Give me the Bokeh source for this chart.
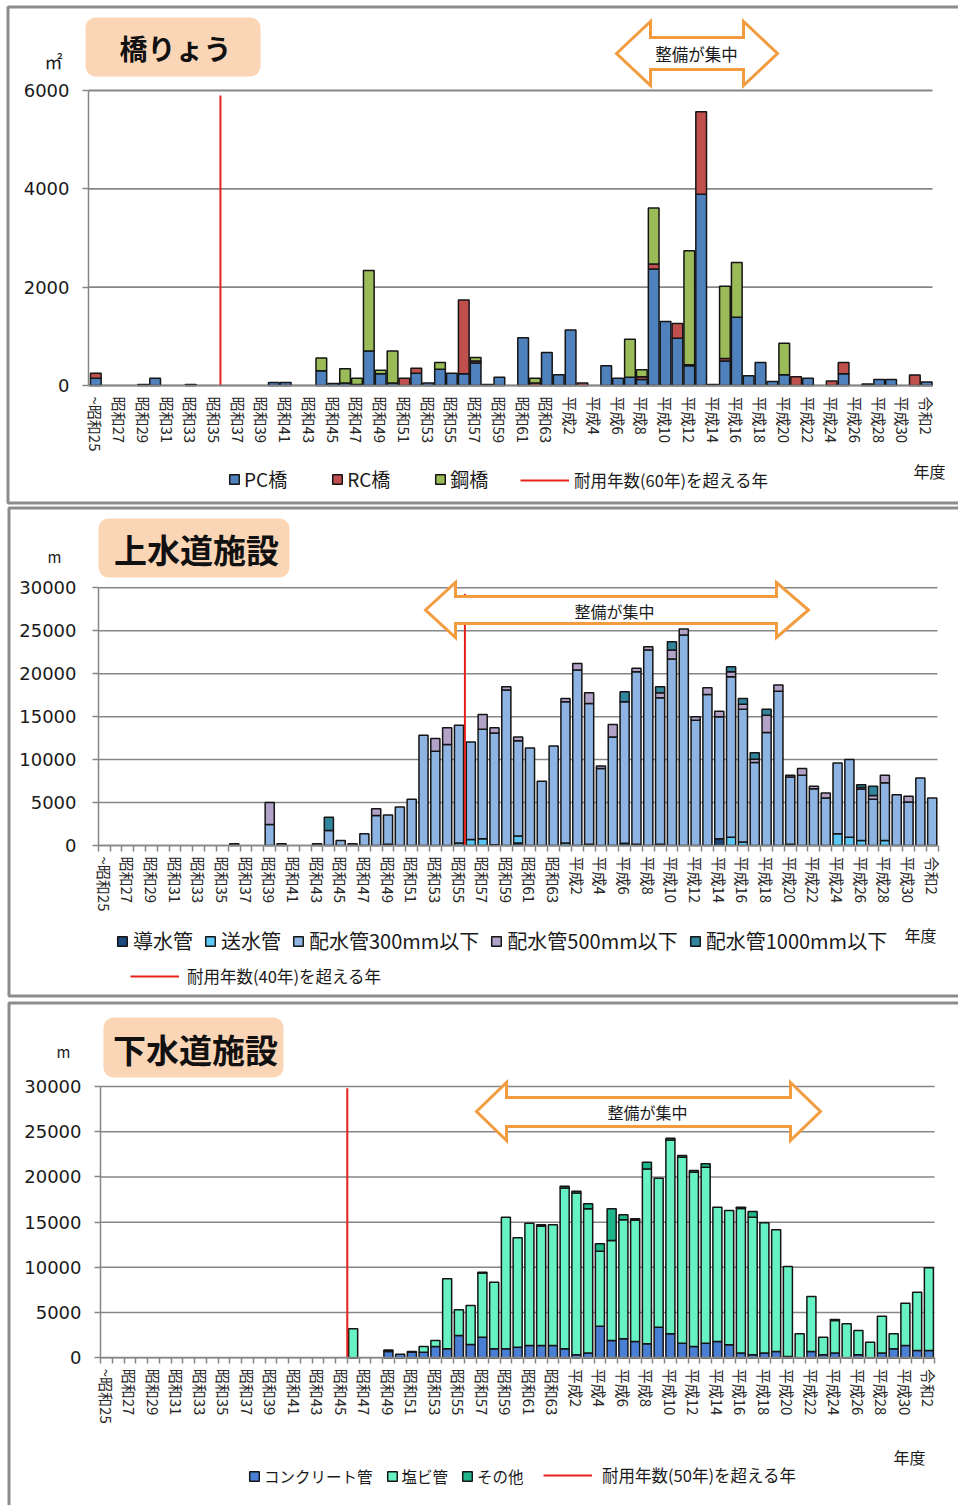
import numpy as np
from bokeh.plotting import figure
from bokeh.models import (ColumnDataSource, FixedTicker, Legend, LegendItem, Label, Range1d, LinearAxis)
from bokeh.layouts import column
from bokeh.embed import file_html
from bokeh.resources import INLINE
from bokeh.core.properties import value

# ---------------- categories (fiscal years 1950 .. 2020) ----------------
showa = [f"昭和{n}" for n in range(25, 64)]
heisei = ["平成元"] + [f"平成{n}" for n in range(2, 31)]
reiwa = ["令和元", "令和2"]
years = showa + heisei + reiwa
FIRST_YEAR = 1950
BASE_YEAR = 2020
tick_labels = {i: ("~" + years[i] if i == 0 else years[i]) for i in range(0, len(years), 2)}

# ---------------- 橋りょう (m2) ----------------
bridge_names = ["PC橋", "RC橋", "鋼橋"]
bridge_pc = [150, 0, 0, 0, 20, 150, 0, 0, 20, 0,
             0, 0, 0, 0, 0, 60, 60, 0, 0, 300,
             40, 50, 20, 700, 240, 50, 0, 250, 50, 330,
             250, 240, 460, 20, 170, 0, 970, 0, 670, 220,
             1130, 0, 0, 400, 150, 170, 120, 2370, 1300, 960,
             400, 3890, 20, 500, 1390, 200, 470, 80, 220, 0,
             150, 0, 0, 240, 0, 30, 120, 120, 0, 0,
             70]
bridge_rc = [100, 0, 0, 0, 0, 0, 0, 0, 0, 0,
             0, 0, 0, 0, 0, 0, 0, 0, 0, 0,
             0, 0, 0, 0, 0, 0, 150, 100, 0, 0,
             0, 1500, 40, 0, 0, 0, 0, 50, 0, 0,
             0, 50, 0, 0, 0, 0, 60, 100, 0, 300,
             20, 1680, 0, 50, 0, 0, 0, 0, 0, 180,
             0, 0, 90, 230, 0, 0, 0, 0, 0, 215,
             0]
bridge_steel = [0, 0, 0, 0, 0, 0, 0, 0, 0, 0,
                0, 0, 0, 0, 0, 0, 0, 0, 0, 260,
                0, 290, 130, 1640, 70, 650, 0, 0, 0, 140,
                0, 0, 70, 0, 0, 0, 0, 100, 0, 0,
                0, 0, 0, 0, 0, 770, 140, 1140, 0, 0,
                2320, 0, 0, 1470, 1110, 0, 0, 0, 640, 0,
                0, 0, 0, 0, 0, 0, 0, 0, 0, 0,
                0]

# ---------------- 上水道施設 (m) ----------------
water_names = ["導水管", "送水管", "配水管300mm以下", "配水管500mm以下", "配水管1000mm以下"]
water_dosui = [0] * 20 + [0, 0, 0, 0, 150, 0, 0, 0, 0, 0,
                          0, 0, 0, 0, 0, 300, 0, 0, 0, 0,
                          0, 150, 0, 0, 250, 150, 0, 150, 0, 0,
                          0, 0, 800, 0, 0, 0, 0, 0, 150, 0] + [0] * 11
water_sosui = [0] * 30 + [300, 700, 780, 100, 0, 800, 0, 0, 0, 300,
                          0, 0, 0, 0, 0, 0, 0, 0, 0, 0,
                          0, 0, 0, 970, 400, 0, 0, 0, 0, 0,
                          0, 0, 1360, 970, 580, 0, 580, 0, 0, 0,
                          0]
water_300 = [0, 0, 0, 0, 0, 0, 0, 0, 0, 0,
             0, 200, 0, 0, 2450, 200, 0, 0, 200, 1750,
             580, 200, 1360, 3500, 3400, 4470, 5370, 12840, 10970, 11750,
             13700, 11360, 12760, 13000, 18090, 11080, 11360, 7470, 11590, 16430,
             20420, 16380, 8950, 12640, 16480, 20080, 22760, 17040, 21700, 24500,
             14590, 17580, 14180, 18670, 15470, 9650, 13150, 17970, 7820, 8170,
             6610, 5520, 8250, 9030, 5960, 5370, 6730, 5910, 5060, 7860,
             5520]
water_500 = [0, 0, 0, 0, 0, 0, 0, 0, 0, 0,
             0, 0, 0, 0, 2550, 0, 0, 0, 0, 0,
             0, 0, 0, 780, 0, 0, 0, 0, 1480, 1950,
             0, 0, 1710, 600, 390, 460, 0, 0, 0, 390,
             780, 1250, 310, 1440, 0, 390, 390, 580, 1060, 700,
             390, 780, 660, 580, 580, 390, 2020, 700, 200, 780,
             280, 590, 0, 0, 200, 450, 860, 0, 660, 0,
             0]
water_1000 = [0, 0, 0, 0, 0, 0, 0, 0, 0, 0,
              0, 0, 0, 0, 0, 0, 0, 0, 0, 1550,
              0, 0, 0, 0, 0, 0, 0, 0, 0, 0,
              0, 0, 0, 0, 0, 0, 0, 0, 0, 0,
              0, 0, 0, 0, 1170, 0, 0, 700, 970, 0,
              0, 0, 0, 590, 670, 770, 700, 0, 0, 0,
              0, 0, 0, 0, 340, 1070, 0, 0, 0, 0,
              0]

# ---------------- 下水道施設 (m) ----------------
sewer_names = ["コンクリート管", "塩ビ管", "その他"]
sewer_concrete = [0] * 20 + [0, 0, 0, 0, 700, 400, 600, 600, 1250, 1000,
                             2470, 1470, 2280, 1000, 1000, 1180, 1360, 1360, 1360, 1000,
                             330, 520, 3500, 1920, 2100, 1800, 1550, 3390, 2650, 1620,
                             1250, 1620, 1800, 1440, 520, 330, 520, 700, 150, 0,
                             700, 330, 520, 0, 330, 0, 520, 1000, 1360, 810,
                             810]
sewer_pvc = [0] * 20 + [0, 3200, 0, 0, 0, 0, 0, 650, 670, 7730,
                        2830, 4320, 7090, 7360, 14550, 12090, 13530, 13190, 13340, 17780,
                        17900, 15950, 8290, 11050, 13160, 13420, 19340, 16470, 21430, 20550,
                        19260, 19460, 14860, 14850, 15990, 15220, 14400, 13450, 9950, 2650,
                        6080, 1950, 3600, 3760, 2690, 1730, 4080, 1650, 4680, 6450,
                        9140]
sewer_other = [0] * 20 + [0, 0, 0, 0, 150, 0, 100, 0, 0, 0,
                          0, 0, 100, 0, 0, 0, 0, 150, 0, 200,
                          200, 560, 810, 3500, 550, 150, 740, 0, 200, 200,
                          200, 370, 0, 0, 150, 630, 0, 0, 0, 0,
                          0, 0, 120, 0, 0, 0, 0, 0, 0, 0,
                          0]

JP = "Noto Sans CJK JP"
NUM = "DejaVu Sans"
PEACH = "#fbd6b6"
ORANGE = "#f29b3f"
GRID = "#868686"
FRAME = "#8c8c8c"
W = 958

# layout of each panel in page pixels (page origin = top-left of the window)
panels = [
    dict(title="橋りょう", unit="㎡", unit_size="18px", names=bridge_names,
         series=[bridge_pc, bridge_rc, bridge_steel],
         colors=["#4f81bd", "#c0504d", "#9bbb59"],
         life=60, red_top=5900, top=0, h=505,
         axis_px=88, right_px=932, cat0_px=95.3, cat_px=11.87,
         zero_py=385, max_py=90, ymax=6000, yticks=[0, 2000, 4000, 6000],
         ystand=13, bw=0.9, minor=False, grid_w=1.8,
         border=(7.5, 6.5, 502.5),
         box=(85, 17, 260, 76), title_xy=(175, 47), title_size="28px",
         arrow=(616, 777, 34, 34, 21, 85, 37, 69), arrow_text=(696, 53), arrow_size="16.5px",
         unit_xy=(53, 60), nendo_xy=(929, 470),
         leg_bar=(228, 481, "19px", 44, 4), leg_line=(520, 481, 5)),
    dict(title="上水道施設", unit="m", unit_size="15px", names=water_names,
         series=[water_dosui, water_sosui, water_300, water_500, water_1000],
         colors=["#1f497d", "#5bc8f5", "#8db4e2", "#b3a2c7", "#31859c"],
         life=40, red_top=29300, top=505, h=494,
         axis_px=98, right_px=937, cat0_px=103.6, cat_px=11.83,
         zero_py=845, max_py=587.3, ymax=30000, yticks=list(range(0, 30001, 5000)),
         ystand=16, bw=0.77, minor=True, grid_w=1.5,
         border=(8.5, 507.5, 995.5),
         box=(98, 518, 289, 577), title_xy=(196, 548), title_size="33px",
         arrow=(425, 808, 30, 32, 582, 637, 596, 623), arrow_text=(614, 610), arrow_size="16px",
         unit_xy=(54, 556), nendo_xy=(920, 934),
         leg_bar=(116, 944, "20px", 11, 5), leg_line=(130, 977, 8)),
    dict(title="下水道施設", unit="m", unit_size="15px", names=sewer_names,
         series=[sewer_concrete, sewer_pvc, sewer_other],
         colors=["#4a7fd6", "#66f2c4", "#1fb68c"],
         life=50, red_top=29800, top=999, h=506,
         axis_px=100, right_px=934, cat0_px=105.9, cat_px=11.75,
         zero_py=1357.3, max_py=1086, ymax=30000, yticks=list(range(0, 30001, 5000)),
         ystand=13, bw=0.77, minor=True, grid_w=1.5,
         border=(8.5, 1002.5, 1530),
         box=(103, 1017, 283, 1077), title_xy=(195, 1048), title_size="33px",
         arrow=(476, 820, 30, 30, 1082, 1140, 1097, 1126), arrow_text=(647, 1111), arrow_size="16px",
         unit_xy=(63, 1051), nendo_xy=(909, 1456),
         leg_bar=(248, 1476, "15.5px", 13, 4), leg_line=(543, 1476, 10)),
]


def build(c):
    top, h = c["top"], c["h"]
    val_px = (c["zero_py"] - c["max_py"]) / c["ymax"]

    def xd(px):
        return (px - c["cat0_px"]) / c["cat_px"]

    def yd(py):
        return (c["zero_py"] - py) / val_px

    p = figure(width=W, height=h, output_backend="svg", toolbar_location=None,
               x_range=Range1d(xd(0), xd(W)), y_range=Range1d(yd(top + h), yd(top)),
               x_axis_type=None, y_axis_type=None, min_border=0,
               background_fill_color="white", border_fill_color="white",
               outline_line_color=None)

    # panel frame (grey box)
    bl, bt, bb = c["border"]
    p.quad(left=[xd(bl)], right=[xd(W + 20)], top=[yd(bt)], bottom=[yd(bb)],
           fill_color=None, line_color=FRAME, line_width=3)

    # horizontal grid lines at the y ticks
    yt = np.array(c["yticks"], dtype=float)
    p.segment(x0=[xd(c["axis_px"])] * len(yt), x1=[xd(c["right_px"])] * len(yt),
              y0=yt, y1=yt, line_color=GRID, line_width=c["grid_w"])

    # axes pinned inside the frame
    yaxis = LinearAxis(fixed_location=xd(c["axis_px"]), bounds=(0, c["ymax"]),
                       ticker=FixedTicker(ticks=c["yticks"]))
    yaxis.major_label_text_font = NUM
    yaxis.major_label_text_font_size = "18px"
    yaxis.major_label_text_color = "#1a1a1a"
    yaxis.major_tick_out = 6
    yaxis.major_tick_in = 0
    yaxis.major_tick_line_color = GRID
    yaxis.major_tick_line_width = 1.5
    yaxis.minor_tick_line_color = None
    yaxis.axis_line_color = GRID
    yaxis.axis_line_width = 1.5
    yaxis.major_label_standoff = c["ystand"]
    p.add_layout(yaxis, "left")

    xaxis = LinearAxis(fixed_location=0, bounds=(xd(c["axis_px"]), xd(c["right_px"])),
                       ticker=FixedTicker(ticks=list(range(0, len(years), 2)),
                                          minor_ticks=[i - 0.5 for i in range(len(years) + 1)]))
    xaxis.major_label_overrides = tick_labels
    xaxis.major_label_orientation = "vertical"
    xaxis.major_tick_line_color = None
    xaxis.major_tick_out = 6
    xaxis.minor_tick_out = 6
    xaxis.minor_tick_in = 0
    xaxis.minor_tick_line_color = GRID if c["minor"] else None
    xaxis.minor_tick_line_width = 1.5
    xaxis.axis_line_color = GRID
    xaxis.axis_line_width = 1.5
    xaxis.major_label_text_font = JP
    xaxis.major_label_text_font_size = "15px"
    xaxis.major_label_text_color = "#262626"
    xaxis.major_label_standoff = 5
    p.add_layout(xaxis, "below")

    # stacked bars
    x = np.arange(len(years))
    base = np.zeros(len(years))
    rends = []
    for vals, col in zip(c["series"], c["colors"]):
        v = np.array(vals, dtype=float)
        m = v > 0
        src = ColumnDataSource(dict(x=x[m], bottom=base[m], top=(base + v)[m]))
        r = p.vbar(x="x", bottom="bottom", top="top", width=c["bw"], source=src,
                   fill_color=col, line_color="#151515", line_width=1.5)
        rends.append(r)
        base = base + v

    # red line: year exceeding the service life
    idx = (BASE_YEAR - c["life"]) - FIRST_YEAR + 0.5
    red = p.segment(x0=[idx], y0=[0], x1=[idx], y1=[c["red_top"]],
                    line_color="#e6221c", line_width=2)

    # double arrow "整備が集中"
    xl, xr, hl, hr, ya, yb, st, sb = c["arrow"]
    yc = (ya + yb) / 2
    ax = [xl, xl + hl, xl + hl, xr - hr, xr - hr, xr, xr - hr, xr - hr, xl + hl, xl + hl]
    ay = [yc, ya, st, st, ya, yc, yb, sb, sb, yb]
    p.patch([xd(v) for v in ax], [yd(v) for v in ay], fill_color="white",
            line_color=ORANGE, line_width=3, line_join="miter")
    p.add_layout(Label(x=xd(c["arrow_text"][0]), y=yd(c["arrow_text"][1]), text="整備が集中",
                       text_font=JP, text_font_size=c["arrow_size"], text_color="#1a1a1a",
                       text_align="center", text_baseline="middle"))

    # title box
    bx0, by0, bx1, by1 = c["box"]
    p.quad(left=[xd(bx0)], right=[xd(bx1)], top=[yd(by0)], bottom=[yd(by1)],
           fill_color=PEACH, line_color=None, border_radius=10)
    p.add_layout(Label(x=xd(c["title_xy"][0]), y=yd(c["title_xy"][1]), text=c["title"],
                       text_font=JP, text_font_size=c["title_size"], text_font_style="bold",
                       text_color="#111111", text_align="center", text_baseline="middle"))

    # unit and 年度
    p.add_layout(Label(x=xd(c["unit_xy"][0]), y=yd(c["unit_xy"][1]), text=c["unit"],
                       text_font=JP, text_font_size=c["unit_size"], text_color="#1a1a1a",
                       text_align="center", text_baseline="middle"))
    p.add_layout(Label(x=xd(c["nendo_xy"][0]), y=yd(c["nendo_xy"][1]), text="年度",
                       text_font=JP, text_font_size="16px", text_color="#1a1a1a",
                       text_align="center", text_baseline="middle"))

    # legends (screen position measured from the frame's bottom-left)
    lx, ly, lsize, lsp, lstand = c["leg_bar"]
    leg1 = Legend(items=[LegendItem(label=value(n), renderers=[r]) for n, r in zip(c["names"], rends)],
                  location=(lx, top + h - (ly + 11)), orientation="horizontal",
                  border_line_color=None, background_fill_alpha=0, padding=0, margin=0,
                  spacing=lsp, glyph_width=12, glyph_height=12, label_standoff=lstand,
                  label_height=22, label_text_font=JP, label_text_font_size=lsize,
                  label_text_color="#1a1a1a")
    p.add_layout(leg1, "center")
    mx, my, mstand = c["leg_line"]
    leg2 = Legend(items=[LegendItem(label=value(f"耐用年数({c['life']}年)を超える年"), renderers=[red])],
                  location=(mx, top + h - (my + 11)), orientation="horizontal",
                  border_line_color=None, background_fill_alpha=0, padding=0, margin=0,
                  glyph_width=49, glyph_height=12, label_standoff=mstand, label_height=22,
                  label_text_font=JP, label_text_font_size="16.5px", label_text_color="#1a1a1a")
    p.add_layout(leg2, "center")
    return p


figs = [build(c) for c in panels]
layout = column(*figs, spacing=0)
with open("out.html", "w", encoding="utf-8") as f:
    f.write(file_html(layout, INLINE))
